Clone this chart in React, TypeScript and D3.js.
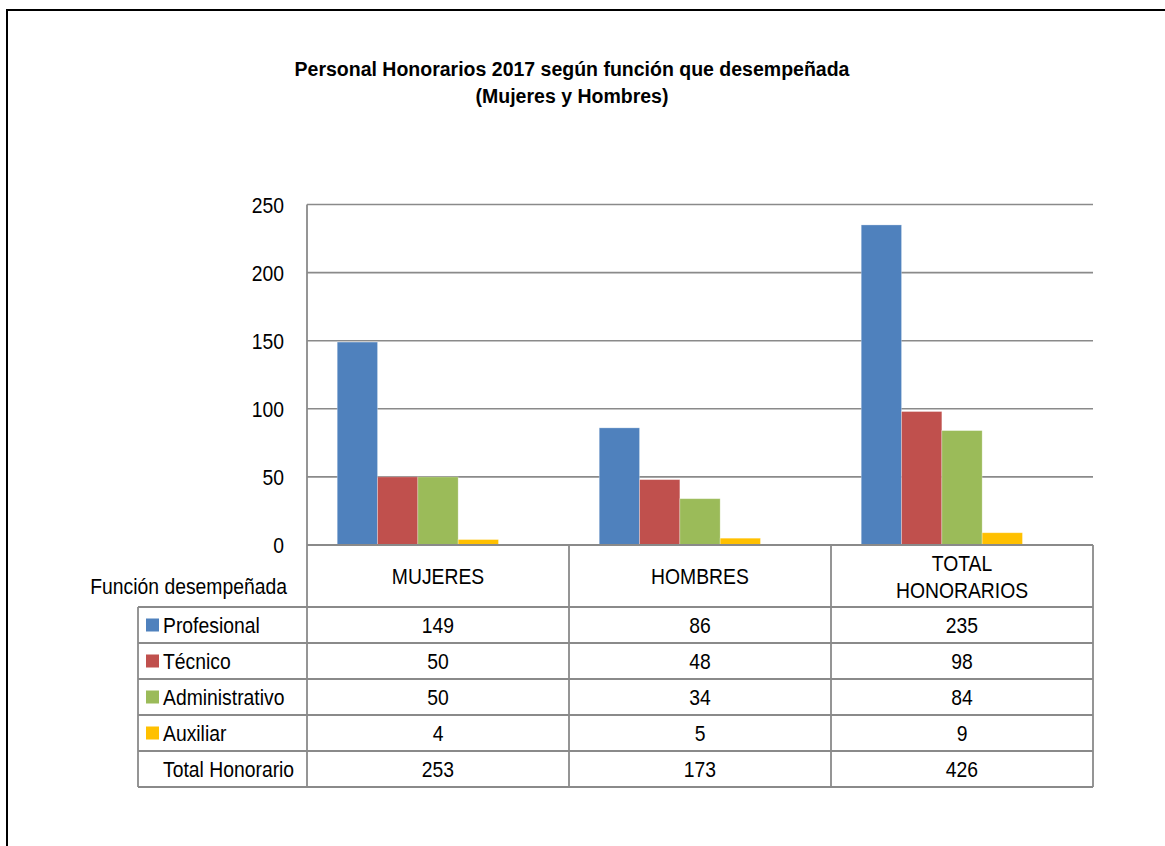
import React from "react";
import * as d3 from "d3";

const categories = ["MUJERES", "HOMBRES", "TOTAL HONORARIOS"];
const categoryLines = [["MUJERES"], ["HOMBRES"], ["TOTAL", "HONORARIOS"]];
const seriesNames = ["Profesional", "Técnico", "Administrativo", "Auxiliar", "Total Honorario"];
const profesional = [149, 86, 235];
const tecnico = [50, 48, 98];
const administrativo = [50, 34, 84];
const auxiliar = [4, 5, 9];
const totalHonorario = [253, 173, 426];
const seriesValues = [profesional, tecnico, administrativo, auxiliar, totalHonorario];
const seriesColors = ["#4F81BD", "#C0504D", "#9BBB59", "#FFC000", null];
const yTicks = [0, 50, 100, 150, 200, 250];

const FONT = "'Liberation Sans', Arial, Helvetica, sans-serif";
const SX = 0.86;
const FS = 22.5;

function T({ x, y, anchor = "middle", children }: any) {
  return (
    <text
      transform={`translate(${x},${y}) scale(${SX},1)`}
      textAnchor={anchor}
      fontSize={FS}
      fontFamily={FONT}
      fill="#000"
    >
      {children}
    </text>
  );
}

export default function App() {
  const left = 307;
  const right = 1093;
  const top = 204.5;
  const zero = 545;
  const headerBottom = 607;
  const rowH = 36;
  const tableLeft = 138;
  const gridColor = "#8a8a8a";
  const base = 8;

  const x = d3.scaleBand<string>().domain(categories).range([left, right]).paddingInner(0).paddingOuter(0);
  const xs = d3
    .scaleBand<string>()
    .domain(seriesNames)
    .range([0, x.bandwidth()])
    .paddingInner(0)
    .paddingOuter(0.75);
  const y = d3.scaleLinear().domain([0, 250]).range([zero, top]);

  const rowYs = seriesNames.map((_, i) => headerBottom + i * rowH);
  const tableBottom = headerBottom + seriesNames.length * rowH;
  const colEdges = [left, ...categories.map((c) => (x(c) as number) + x.bandwidth())];

  return (
    <svg
      width={1165}
      height={846}
      style={{ position: "absolute", left: 0, top: 0, background: "#fff" }}
    >
      <rect x={0} y={0} width={1165} height={846} fill="#fff" />
      <rect x={7} y={10} width={1200} height={900} fill="none" stroke="#000" strokeWidth={2} />

      {/* Title */}
      <text x={572} y={76} textAnchor="middle" fontSize={19.5} fontWeight="bold" fontFamily={FONT}>
        Personal Honorarios 2017 según función que desempeñada
      </text>
      <text x={572} y={103} textAnchor="middle" fontSize={19.5} fontWeight="bold" fontFamily={FONT}>
        (Mujeres y Hombres)
      </text>

      {/* Gridlines */}
      {yTicks.map((t) => (
        <line key={t} x1={left} x2={right} y1={y(t)} y2={y(t)} stroke={gridColor} strokeWidth={1.6} />
      ))}
      {yTicks.map((t) => (
        <T key={"l" + t} x={284} y={y(t) + base} anchor="end">
          {t}
        </T>
      ))}

      {/* Bars */}
      {seriesNames.map((s, si) =>
        seriesColors[si]
          ? categories.map((c, ci) => (
              <rect
                key={s + c}
                x={(x(c) as number) + (xs(s) as number)}
                y={y(seriesValues[si][ci])}
                width={xs.bandwidth()}
                height={zero - y(seriesValues[si][ci])}
                fill={seriesColors[si] as string}
                stroke="#ffffff"
                strokeOpacity={0.35}
                strokeWidth={0.8}
              />
            ))
          : null
      )}

      {/* Data table */}
      <line x1={left} x2={left} y1={top} y2={tableBottom} stroke={gridColor} strokeWidth={1.8} />
      {colEdges.slice(1).map((cx, i) => (
        <line key={"c" + i} x1={cx} x2={cx} y1={zero} y2={tableBottom} stroke={gridColor} strokeWidth={1.8} />
      ))}
      <line x1={tableLeft} x2={tableLeft} y1={headerBottom} y2={tableBottom} stroke={gridColor} strokeWidth={1.8} />
      {[...rowYs, tableBottom].map((ry, i) => (
        <line key={"r" + i} x1={tableLeft} x2={right} y1={ry} y2={ry} stroke={gridColor} strokeWidth={1.8} />
      ))}
      <line x1={left} x2={right} y1={zero} y2={zero} stroke={gridColor} strokeWidth={1.8} />

      <T x={287} y={594} anchor="end">
        Función desempeñada
      </T>

      {categories.map((c, ci) => {
        const cx = (x(c) as number) + x.bandwidth() / 2;
        const lines = categoryLines[ci];
        const mid = (zero + headerBottom) / 2;
        return lines.map((ln, li) => (
          <T key={c + li} x={cx} y={mid + base + (li - (lines.length - 1) / 2) * 27}>
            {ln}
          </T>
        ));
      })}

      {seriesNames.map((s, si) => {
        const ry = rowYs[si];
        const cy = ry + rowH / 2;
        return (
          <g key={"row" + s}>
            {seriesColors[si] ? (
              <rect x={146} y={cy - 6.5} width={13} height={13} fill={seriesColors[si] as string} />
            ) : null}
            <T x={163} y={cy + base} anchor="start">
              {s}
            </T>
            {categories.map((c, ci) => (
              <T key={c} x={(x(c) as number) + x.bandwidth() / 2} y={cy + base}>
                {seriesValues[si][ci]}
              </T>
            ))}
          </g>
        );
      })}
    </svg>
  );
}
